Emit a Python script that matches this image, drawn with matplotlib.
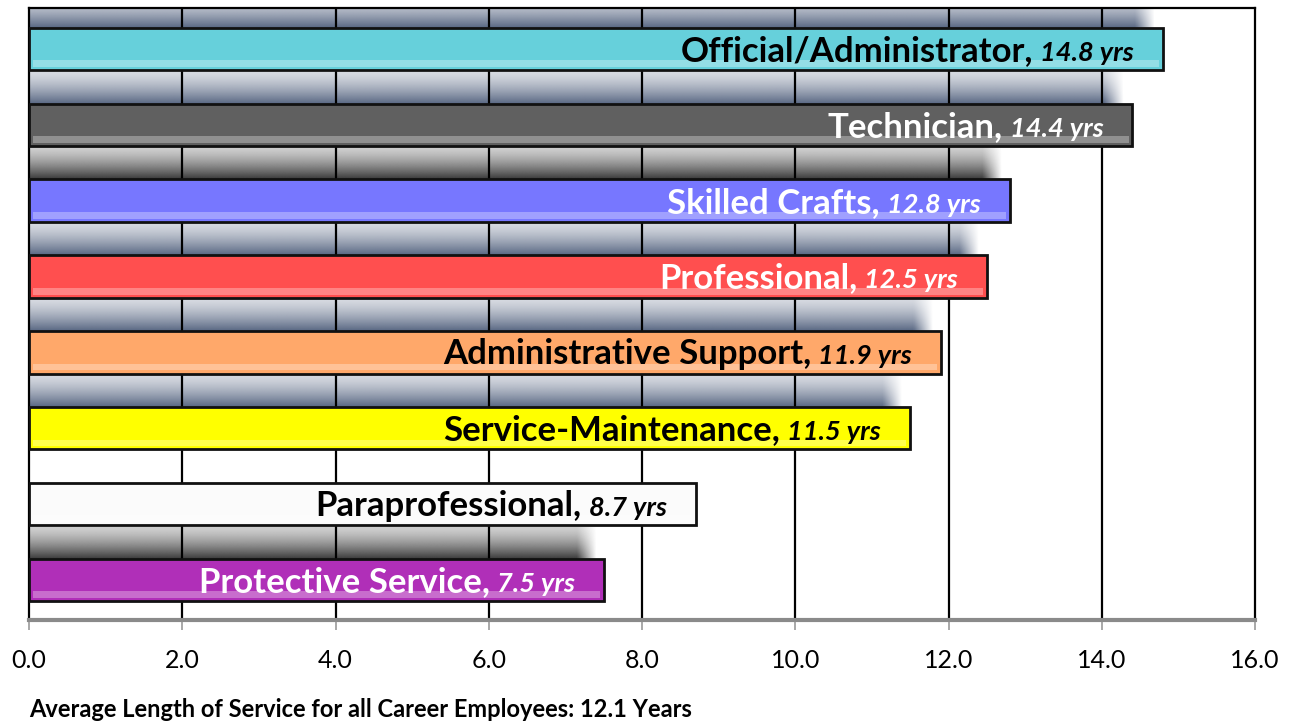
import numpy as np
import matplotlib
matplotlib.use("Agg")
from matplotlib import pyplot as plt
from matplotlib.colors import to_rgb

categories = ['Official/Administrator', 'Technician', 'Skilled Crafts', 'Professional',
              'Administrative Support', 'Service-Maintenance', 'Paraprofessional',
              'Protective Service']
years = [14.8, 14.4, 12.8, 12.5, 11.9, 11.5, 8.7, 7.5]
bar_colors = ['#66d0db', '#606060', '#7777ff', '#ff4f4f',
              '#ffa86a', '#ffff00', '#fbfbfb', '#b02fb8']
text_colors = ['black', 'white', 'white', 'white', 'black', 'black', 'black', 'white']
shadow_colors = ['#4a5a78', '#4a5a78', '#2a2a2a', '#4a5a78',
                 '#4a5a78', '#4a5a78', None, '#2a2a2a']
x_ticks = [0, 2, 4, 6, 8, 10, 12, 14, 16]
footnote = 'Average Length of Service for all Career Employees: 12.1 Years'

plt.rcParams['font.family'] = ['Lato', 'DejaVu Sans']

fig = plt.figure(figsize=(12.98, 7.23), dpi=100)
ax = fig.add_axes([29 / 1298, 1 - 620 / 723, (1255 - 29) / 1298, (620 - 8) / 723])

h = 0.56
gap = 1 - h

# vertical grid behind bars but above shadows
for t in x_ticks[1:-1]:
    ax.axvline(t, color='black', lw=1.6, zorder=2)

for i, (cat, v) in enumerate(zip(categories, years)):
    # soft shadow in the gap above each bar
    sc = shadow_colors[i]
    if sc is not None:
        xs = np.linspace(0, v - 0.1, 400)
        ys = np.linspace(0, 1, 60)
        fade_x = np.clip((v - 0.1 - xs) / 0.25, 0, 1)
        fade_y = 0.25 + 0.75 * ys ** 1.4
        img = np.zeros((60, 400, 4))
        img[..., :3] = to_rgb(sc)
        img[..., 3] = 0.92 * fade_y[:, None] * fade_x[None, :]
        top = i - h / 2
        ax.imshow(img, extent=(0, v - 0.1, top, top - gap * 0.95), origin='upper',
                  aspect='auto', zorder=1, interpolation='bilinear')

    ax.barh(i, v, height=h, color=bar_colors[i], edgecolor='#111111', lw=2, zorder=3)
    # light bevel strip along the lower edge
    c = np.array(to_rgb(bar_colors[i]))
    light = 0.7 * c + 0.3
    ax.barh(i + h / 2 - 0.085, v - 0.1, left=0.05, height=0.09, color=light,
            lw=0, zorder=3.5)

    val = ax.annotate(f'{v:.1f} yrs', xy=(v, i), xytext=(-29, -12),
                      textcoords='offset pixels', ha='right', va='baseline',
                      fontsize=19.5, fontweight='bold', fontstyle='italic',
                      color=text_colors[i], zorder=5)
    ax.annotate(cat + ',', xy=(0, i), xycoords=(val, 'data'), xytext=(-7, -12),
                textcoords='offset pixels', ha='right', va='baseline',
                fontsize=25, fontweight='bold', color=text_colors[i], zorder=5)

ax.set_xlim(0, 16)
ax.set_ylim(7.53, -0.54)
ax.set_yticks([])
ax.set_xticks(x_ticks)
ax.set_xticklabels([f'{t:.1f}' for t in x_ticks], fontsize=18)
ax.tick_params(axis='x', length=7, width=1.2, color='#999999', pad=14)
for s in ['left', 'top', 'right']:
    ax.spines[s].set_color('black')
    ax.spines[s].set_linewidth(1.6)
ax.spines['bottom'].set_color('#8a8a8a')
ax.spines['bottom'].set_linewidth(3)

fig.text(29 / 1298, 1 - 717 / 723, footnote, fontsize=17, fontweight='bold',
         ha='left', va='baseline')

fig.savefig('out.png', dpi=100)
